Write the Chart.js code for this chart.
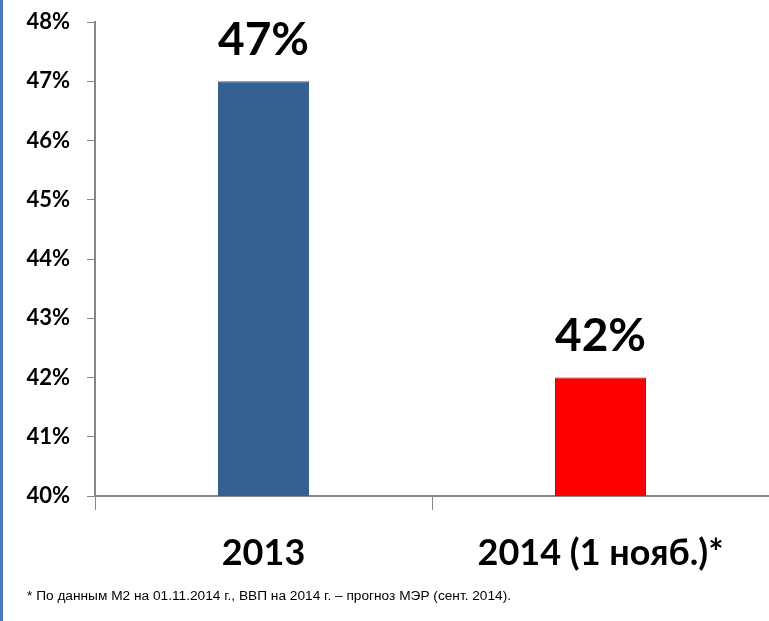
<!DOCTYPE html>
<html>
<head>
<meta charset="utf-8">
<script src="https://cdn.jsdelivr.net/npm/chart.js@4/dist/chart.umd.min.js"></script>
<style>
    html, body { margin: 0; padding: 0; background: #fff; }
    #wrap {
        position: relative;
        width: 769px;
        height: 621px;
        overflow: hidden;
    }
    #wrap::before {
        content: '';
        position: absolute;
        left: 0; top: 0; bottom: 0;
        width: 3px;
        background: #4a7ab5;
    }
    #note {
        position: absolute;
        left: 27px;
        top: 588px;
        font: 13.7px "Liberation Sans", Arial, sans-serif;
        color: #000;
        white-space: nowrap;
    }
</style>
</head>
<body>
<div id="wrap">
    <canvas id="chart" width="769" height="621"></canvas>
    <div id="note">* По данным М2 на 01.11.2014 г., ВВП на 2014 г. – прогноз МЭР (сент. 2014).</div>
</div>
<script>
// Категории и значения
const years = ['2013', '2014 (1 нояб.)*'];
const shares = [47, 42];
const barColors = ['#376092', '#ff0000'];
const barBorders = ['#376092', '#d40000'];

const FONT = 'Lato, "Open Sans", sans-serif';

// Подписи значений над столбцами
const valueLabels = {
    id: 'valueLabels',
    afterDatasetsDraw(chart) {
        const ctx = chart.ctx;
        const meta = chart.getDatasetMeta(0);
        ctx.save();
        ctx.font = 'bold 46px ' + FONT;
        ctx.fillStyle = '#000';
        ctx.textAlign = 'center';
        ctx.textBaseline = 'middle';
        meta.data.forEach((bar, i) => {
            ctx.fillText(shares[i] + '%', bar.x, bar.y - 41);
        });
        ctx.restore();
    }
};

new Chart(document.getElementById('chart'), {
    type: 'bar',
    data: {
        labels: years,
        datasets: [{
            data: shares,
            backgroundColor: barColors,
            borderColor: barBorders,
            borderWidth: 1,
            barPercentage: 0.54,
            categoryPercentage: 0.5
        }]
    },
    options: {
        responsive: false,
        animation: false,
        layout: { padding: { top: 22, right: 0, left: 0, bottom: 0 } },
        plugins: {
            legend: { display: false },
            tooltip: { enabled: false }
        },
        scales: {
            x: {
                offset: true,
                grid: {
                    offset: true,
                    drawOnChartArea: false,
                    tickLength: 14,
                    color: '#868686',
                    tickColor: '#868686'
                },
                border: { color: '#868686', width: 2 },
                ticks: {
                    color: '#000',
                    padding: 22,
                    font: { family: FONT, size: 36, weight: 'bold' }
                },
                afterFit(scale) {
                    scale.height = 125;
                    scale.paddingTop = 0;
                    scale.paddingBottom = 0;
                }
            },
            y: {
                min: 40,
                max: 48,
                ticks: {
                    stepSize: 1,
                    color: '#000',
                    padding: 17,
                    font: { family: FONT, size: 22, weight: 'bold' },
                    callback: v => v + '%'
                },
                grid: {
                    drawOnChartArea: false,
                    tickLength: 8,
                    color: '#868686',
                    tickColor: '#868686'
                },
                border: { color: '#868686', width: 2 },
                afterFit(scale) {
                    scale.width = 95;
                    scale.paddingTop = 0;
                    scale.paddingBottom = 0;
                }
            }
        }
    },
    plugins: [valueLabels]
});
</script>
</body>
</html>
